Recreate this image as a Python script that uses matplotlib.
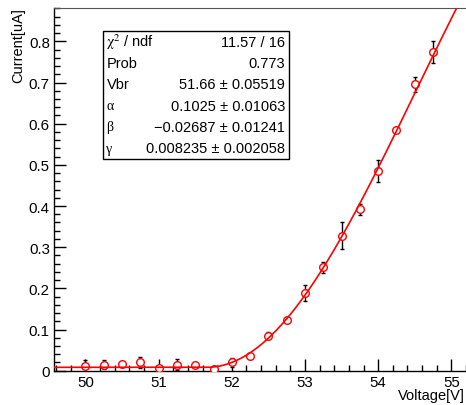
import numpy as np
import matplotlib
matplotlib.use("Agg")
import matplotlib.pyplot as plt
from matplotlib.ticker import MultipleLocator, FuncFormatter
from matplotlib.patches import Rectangle

plt.rcParams['font.family'] = ['Liberation Sans', 'DejaVu Sans']
plt.rcParams['mathtext.fontset'] = 'stix'

# measured points
voltage = np.array([50.0, 50.25, 50.5, 50.75, 51.0, 51.25, 51.5, 51.75, 52.0, 52.25,
                    52.5, 52.75, 53.0, 53.25, 53.5, 53.75, 54.0, 54.25, 54.5, 54.75])
current = np.array([0.012, 0.014, 0.016, 0.020, 0.006, 0.015, 0.014, 0.004, 0.020, 0.036,
                    0.085, 0.124, 0.189, 0.251, 0.328, 0.392, 0.485, 0.585, 0.696, 0.775])
current_err = np.array([0.015, 0.011, 0.004, 0.013, 0.004, 0.014, 0.005, 0.003, 0.012, 0.005,
                        0.008, 0.005, 0.019, 0.014, 0.032, 0.013, 0.026, 0.005, 0.018, 0.027])

# fit results (stat box)
chi2, ndf, prob = 11.57, 16, 0.773
vbr, vbr_e = 51.66, 0.05519
alpha, alpha_e = 0.1025, 0.01063
beta, beta_e = -0.02687, 0.01241
gamma, gamma_e = 0.008235, 0.002058

W, H = 466, 406
fig = plt.figure(figsize=(W / 100, H / 100), dpi=100)
ax = fig.add_axes([54 / W, 1 - 371.7 / H, 1 - 54 / W, (371.7 - 9) / H])

ax.errorbar(voltage, current, yerr=current_err, fmt='none', ecolor='black',
            elinewidth=1, capsize=1.5, capthick=1, zorder=2)
ax.plot(voltage, current, 'o', mfc='white', mec='red', mew=1, ms=5.5, zorder=3)

vv = np.linspace(49.5, 55.3, 600)
dv = np.clip(vv - vbr, 0, None)
fit = gamma + alpha * dv**2 * np.exp(beta * dv**2)
ax.plot(vv, fit, color='red', lw=1.2, zorder=4)

ax.set_xlim(49.57, 55.2)
ax.set_ylim(0, 0.881)

ax.xaxis.set_major_locator(MultipleLocator(1))
ax.xaxis.set_minor_locator(MultipleLocator(0.2))
ax.yaxis.set_major_locator(MultipleLocator(0.1))
ax.yaxis.set_minor_locator(MultipleLocator(0.02))
ax.yaxis.set_major_formatter(FuncFormatter(lambda v, p: '0' if abs(v) < 1e-9 else f'{v:.1f}'))
ax.tick_params(which='both', direction='in', labelsize=10.8, top=False, right=False)
ax.tick_params(which='major', length=8.5, width=1, pad=3)
ax.tick_params(which='minor', length=4.3, width=1)

ax.spines['right'].set_visible(False)
ax.spines['top'].set_color('#555555')
for s in ['left', 'bottom']:
    ax.spines[s].set_linewidth(1)

fig.text(18.5 / W, 1 - 8 / H, 'Current[uA]', rotation=90, ha='center', va='top', fontsize=10.5)
fig.text(465 / W, 1 - 396 / H, 'Voltage[V]', ha='right', va='center', fontsize=10.5)

# stat box
bx0, by0, bx1, by1 = 103, 32, 289, 160
fig.patches.append(Rectangle((bx0 / W + 1.2 / W, 1 - by1 / H - 1.2 / H), (bx1 - bx0) / W, (by1 - by0) / H,
                             transform=fig.transFigure, facecolor='#333333', edgecolor='none', zorder=9))
fig.patches.append(Rectangle((bx0 / W, 1 - by1 / H), (bx1 - bx0) / W, (by1 - by0) / H,
                             transform=fig.transFigure, facecolor='white', edgecolor='black', lw=1, zorder=10))
labels = [r'$\mathrm{\chi}^{2}$ / ndf', 'Prob', 'Vbr', 'α', 'β', 'γ']
label_fams = [None, None, None, 'Liberation Serif', 'Liberation Serif', 'Liberation Serif']
values = [f'{chi2:.2f} / {ndf}', f'{prob}', f'{vbr} ± {vbr_e}', f'{alpha} ± {alpha_e}',
          f'\u2212{abs(beta)} ± {beta_e}', f'{gamma} ± {gamma_e}']
row_h = (by1 - by0) / 6
for i, (lab, val) in enumerate(zip(labels, values)):
    yc = 1 - (by0 + row_h * (i + 0.5)) / H
    kw = {'family': label_fams[i], 'fontsize': 10} if label_fams[i] else {'fontsize': 10.5}
    fig.text(106.5 / W, yc, lab, ha='left', va='center', zorder=11, **kw)
    fig.text(285 / W, yc, val, ha='right', va='center', fontsize=10.5, zorder=11)

fig.savefig('out.png', dpi=100)
